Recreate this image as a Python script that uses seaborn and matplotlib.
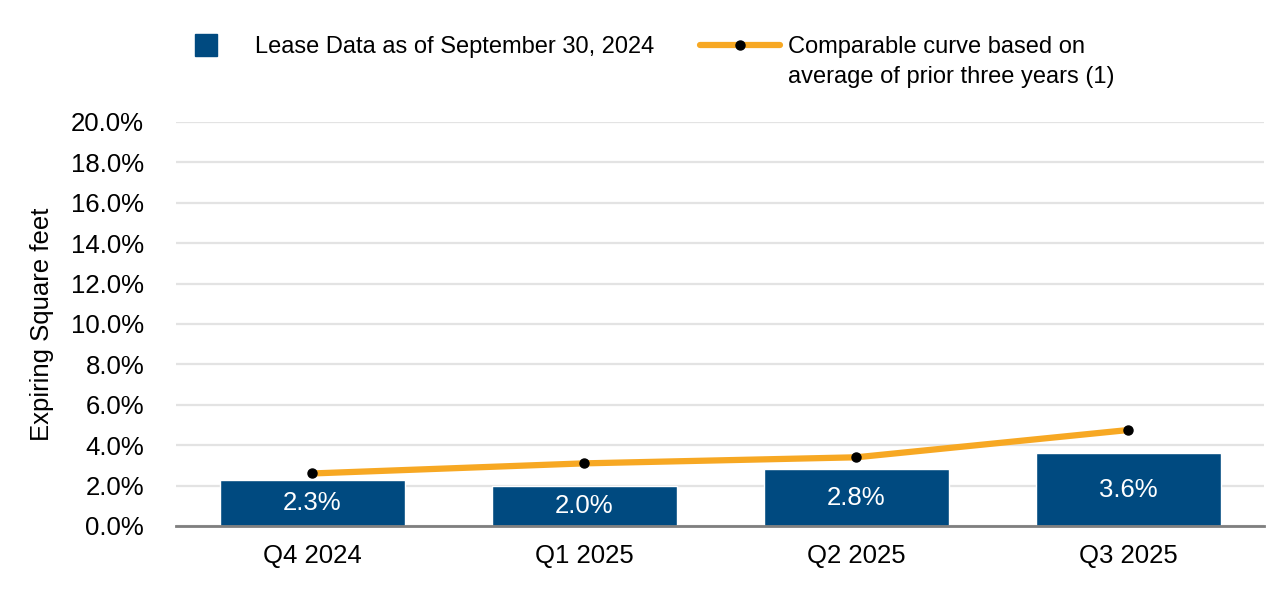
import matplotlib
matplotlib.use("Agg")
import matplotlib.pyplot as plt
import seaborn as sns
import pandas as pd
from matplotlib.ticker import FuncFormatter
from matplotlib.lines import Line2D

quarters = ["Q4 2024", "Q1 2025", "Q2 2025", "Q3 2025"]
lease_pct = [2.3, 2.0, 2.8, 3.6]
comparable_pct = [2.6, 3.1, 3.4, 4.75]
lease_labels = ["2.3%", "2.0%", "2.8%", "3.6%"]

BLUE = "#004A80"
ORANGE = "#F7A823"

sns.set_theme(style="white")
plt.rcParams["font.family"] = ["Liberation Sans", "DejaVu Sans"]
plt.rcParams["text.color"] = "black"

df = pd.DataFrame({"quarter": quarters, "lease": lease_pct, "comp": comparable_pct})

fig = plt.figure(figsize=(12.86, 5.92), dpi=100)
ax = fig.add_axes([0.137, 0.1115, 0.846, 0.6825])

sns.barplot(data=df, x="quarter", y="lease", color=BLUE, width=0.68,
            saturation=1, ax=ax, zorder=2)
ax.plot(range(len(quarters)), df["comp"], color=ORANGE, lw=4.5, zorder=3,
        marker="o", markersize=6.5, markerfacecolor="black",
        markeredgecolor="black")

for i, (v, lab) in enumerate(zip(lease_pct, lease_labels)):
    ax.text(i, v / 2, lab, ha="center", va="center", color="white",
            fontsize=18.5, zorder=4)

ax.set_ylim(0, 20)
ax.set_xlim(-0.5, 3.5)
ax.set_yticks([0, 2, 4, 6, 8, 10, 12, 14, 16, 18, 20])
ax.yaxis.set_major_formatter(FuncFormatter(lambda v, p: f"{v:.1f}%"))
ax.grid(axis="y", color="#E3E3E3", lw=1.6, zorder=0)
ax.set_axisbelow(True)
for s in ["top", "right", "left"]:
    ax.spines[s].set_visible(False)
ax.spines["bottom"].set_color("#7F7F7F")
ax.spines["bottom"].set_linewidth(2)
ax.tick_params(axis="both", labelsize=18.5, length=0, colors="black")
ax.tick_params(axis="x", pad=13)
ax.tick_params(axis="y", pad=23)
ax.set_xlabel("")
ax.set_ylabel("Expiring Square feet", fontsize=18.5, labelpad=12, color="black")

# legend: two separate boxes so each handle sits where the reference has it
sq = Line2D([0], [0], lw=0, marker="s", markersize=16.5,
            markerfacecolor=BLUE, markeredgecolor=BLUE)
ln = Line2D([0], [0], color=ORANGE, lw=4.5, marker="o", markersize=6.5,
            markerfacecolor="black", markeredgecolor="black")
fig.legend([sq], ["Lease Data as of September 30, 2024"],
           loc="center left", bbox_to_anchor=(182 / 1286, 1 - 47 / 592),
           frameon=False, fontsize=17, handlelength=2.0,
           handletextpad=1.08, borderpad=0, borderaxespad=0,
           labelcolor="black")
fig.legend([ln], ["Comparable curve based on"],
           loc="center left", bbox_to_anchor=(700 / 1286, 1 - 47 / 592),
           frameon=False, fontsize=17, handlelength=3.39,
           handletextpad=0.34, borderpad=0, borderaxespad=0,
           labelcolor="black")
fig.text(788 / 1286, 1 - 77 / 592, "average of prior three years (1)",
         fontsize=17, ha="left", va="center", color="black")

fig.savefig("out.png", dpi=100)
